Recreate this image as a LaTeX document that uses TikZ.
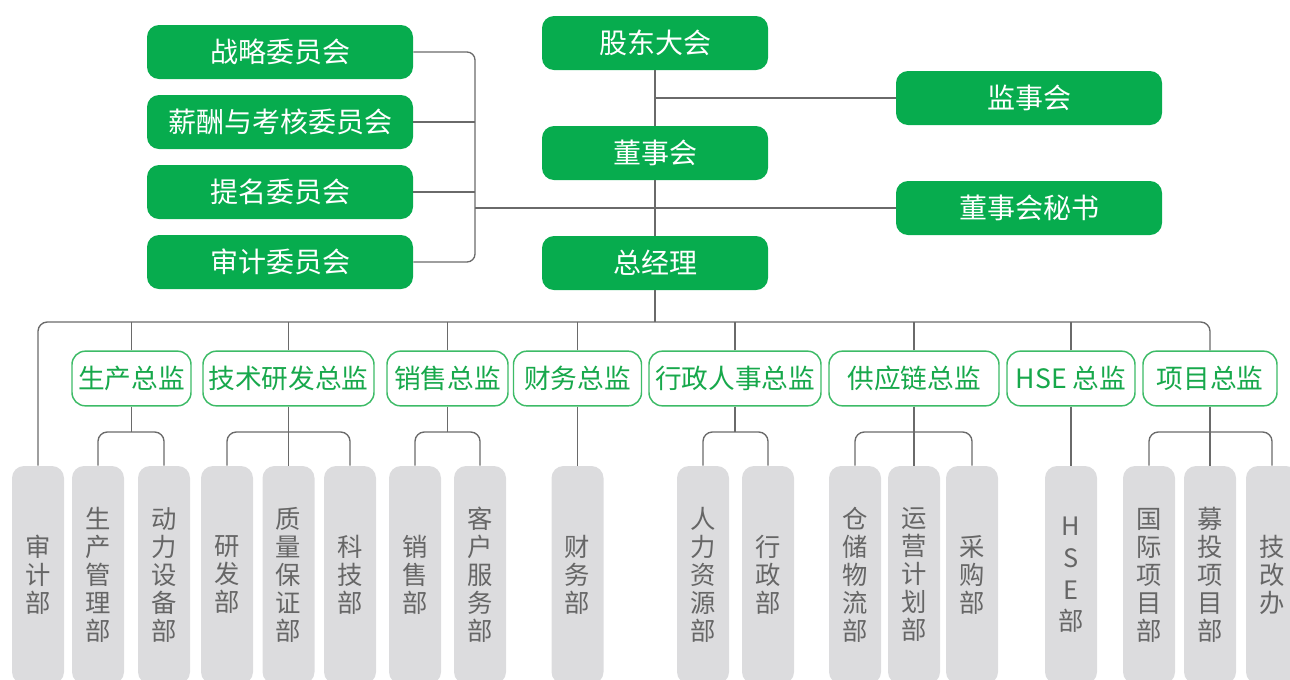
\documentclass[tikz,border=0pt]{standalone}
\usepackage{fontspec}
\setmainfont{Noto Sans CJK SC}
\usepackage{xcolor}
\usepackage{tikz}
\usetikzlibrary{positioning,calc}

\definecolor{boxgreen}{HTML}{07AC4E}
\definecolor{linegreen}{HTML}{3DBB67}
\definecolor{textgreen}{HTML}{17A84B}
\definecolor{deptgrey}{HTML}{DCDCDE}
\definecolor{depttext}{HTML}{666666}
\definecolor{wiregrey}{HTML}{6A6A6A}

\tikzset{
  board/.style={fill=boxgreen, text=white, rounded corners=9pt, inner sep=0pt,
    minimum height=40.5pt, font=\fontsize{21}{21}\selectfont},
  director/.style={draw=linegreen, line width=1.1pt, fill=white, text=textgreen,
    rounded corners=10pt, inner sep=0pt, minimum height=41pt, font=\fontsize{20}{20}\selectfont},
  dept/.style={fill=deptgrey, text=depttext, rounded corners=9pt, inner sep=0pt,
    minimum width=39pt, minimum height=163.5pt, align=center, font=\fontsize{19}{21}\selectfont},
  wire/.style={draw=wiregrey, line width=1pt},
}

\begin{document}
\begin{tikzpicture}[x=0.75pt,y=-0.75pt]
    \useasboundingbox (0,0) rectangle (1290,679);
    \clip (0,0) rectangle (1290,679);
    % Board
    \node[board, minimum width=169.5pt] (gd) at (655,43) {股东大会};
    \node[board, minimum width=169.5pt] (dsh) at (655,153) {董事会};
    \node[board, minimum width=169.5pt] (zjl) at (655,263) {总经理};
    \node[board, minimum width=199.5pt] (jsh) at (1029,98) {监事会};
    \node[board, minimum width=199.5pt] (ms) at (1029,208) {董事会秘书};
    % Committees
    \node[board, minimum width=199.5pt] (zl) at (280,52) {战略委员会};
    \node[board, minimum width=199.5pt] (xc) at (280,122) {薪酬与考核委员会};
    \node[board, minimum width=199.5pt] (tm) at (280,192) {提名委员会};
    \node[board, minimum width=199.5pt] (sj) at (280,262) {审计委员会};
    \coordinate (brk) at (475,208);
    \draw[wire] (gd) -- (dsh) -- (zjl);
    \draw[wire] (jsh.west) -- (jsh.west -| gd);
    \draw[wire] (ms.west) -- (brk);
    \draw[wire, rounded corners=6pt] (zl.east) -| (brk) |- (sj.east);
    \draw[wire] (xc.east) -- (xc.east -| brk);
    \draw[wire] (tm.east) -- (tm.east -| brk);
    % Directors
    \foreach \name/\x/\w/\txt in {scz/131.5/89.25/生产总监, jsyf/288.5/128.25/技术研发总监,
        xs/447.5/90.75/销售总监, cw/577.5/96/财务总监, xzrs/735/129/行政人事总监,
        gyl/914/127.5/供应链总监, hse/1071/96/HSE 总监, xmzj/1210/100.5/项目总监}
      \node[director, minimum width=\w pt] (\name) at (\x,378.5) {\txt};
    % Departments
    \foreach \name/\x/\txt in {sjb/38/审\\计\\部, scgl/98/生\\产\\管\\理\\部, dlsb/164/动\\力\\设\\备\\部,
        yf/227/研\\发\\部, zlbz/288.5/质\\量\\保\\证\\部, kj/350/科\\技\\部,
        xsb/415/销\\售\\部, kf/480/客\\户\\服\\务\\部, cwb/577.5/财\\务\\部,
        rlzy/703/人\\力\\资\\源\\部, xzb/768/行\\政\\部,
        ccwl/855/仓\\储\\物\\流\\部, yyjh/914/运\\营\\计\\划\\部, cg/972/采\\购\\部,
        hseb/1071/H\\[3pt]S\\[3pt]E\\[2pt]部,
        gjxm/1149/国\\际\\项\\目\\部, mtxm/1210/募\\投\\项\\目\\部, jgb/1272/技\\改\\办}
      \node[dept] (\name) at (\x,575) {\txt};
    % Main bus
    \coordinate (bus) at (655,322);
    \coordinate (lvl) at (0,432);
    \draw[wire] (zjl) -- (bus);
    \draw[wire, rounded corners=7pt] (sjb.north) |- (bus) -| (xmzj.north);
    \foreach \name in {scz,jsyf,xs,cw,xzrs,gyl,hse}
      \draw[wire] (\name.north) -- (\name.north |- bus);
    % Branches
    \foreach \d/\l/\r in {scz/scgl/dlsb, jsyf/yf/kj, xs/xsb/kf, xzrs/rlzy/xzb, gyl/ccwl/cg, xmzj/gjxm/jgb}{
      \draw[wire] (\d.south) -- (\d.south |- lvl);
      \draw[wire, rounded corners=7pt] (\l.north) |- (lvl -| \d) -| (\r.north);
    }
    \foreach \d/\c in {jsyf/zlbz, cw/cwb, gyl/yyjh, hse/hseb, xmzj/mtxm}
      \draw[wire] (\d.south) -- (\c.north);
\end{tikzpicture}
\end{document}
